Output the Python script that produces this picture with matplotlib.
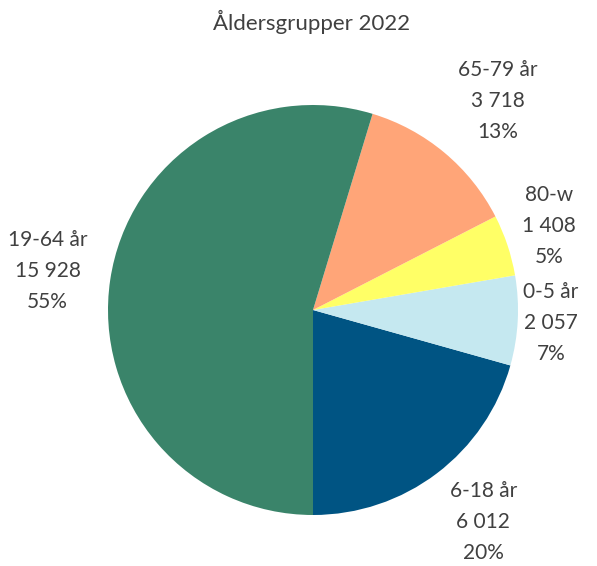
import matplotlib.pyplot as plt

# Data (ordning moturs från klockan 6)
grupper = ["6-18 år", "0-5 år", "80-w", "65-79 år", "19-64 år"]
antal = [6012, 2057, 1408, 3718, 15928]
procent = [20, 7, 5, 13, 55]  # som i originalets etiketter
farger = ["#005483", "#C5E8F0", "#FFFF66", "#FFA578", "#3A846A"]

# Etikettpositioner (i pie-koordinater, radie = 1)
etikett_pos = [(0.83, -1.035), (1.16, -0.065), (1.15, 0.41), (0.90, 1.02), (-1.295, 0.19)]

plt.rcParams["font.family"] = ["Lato", "DejaVu Sans"]
textfarg = "#404040"

fig = plt.figure(figsize=(5.97, 5.66), dpi=100)
ax = fig.add_axes([0.0, 0.0, 1.0, 1.0])

wedges, _ = ax.pie(antal, colors=farger, startangle=270, counterclock=True,
                   radius=1.0, center=(0, 0))

for namn, v, p, (x, y) in zip(grupper, antal, procent, etikett_pos):
    txt = f"{namn}\n{v:,}".replace(",", " ") + f"\n{p}%"
    ax.text(x, y, txt, ha="center", va="center", fontsize=15,
            color=textfarg, linespacing=1.68)

# Placera pajen: centrum (313, 310) px, radie 205 px
W, H = 597, 566
cx, cy, r = 313, H - 310, 205
ax.set_xlim(-cx / r, (W - cx) / r)
ax.set_ylim(-cy / r, (H - cy) / r)
ax.set_aspect("equal")
ax.axis("off")

fig.text(312 / W, 1 - 22 / H, "Åldersgrupper 2022", ha="center", va="center",
         fontsize=16, color=textfarg)

fig.savefig("out.png", dpi=100)
